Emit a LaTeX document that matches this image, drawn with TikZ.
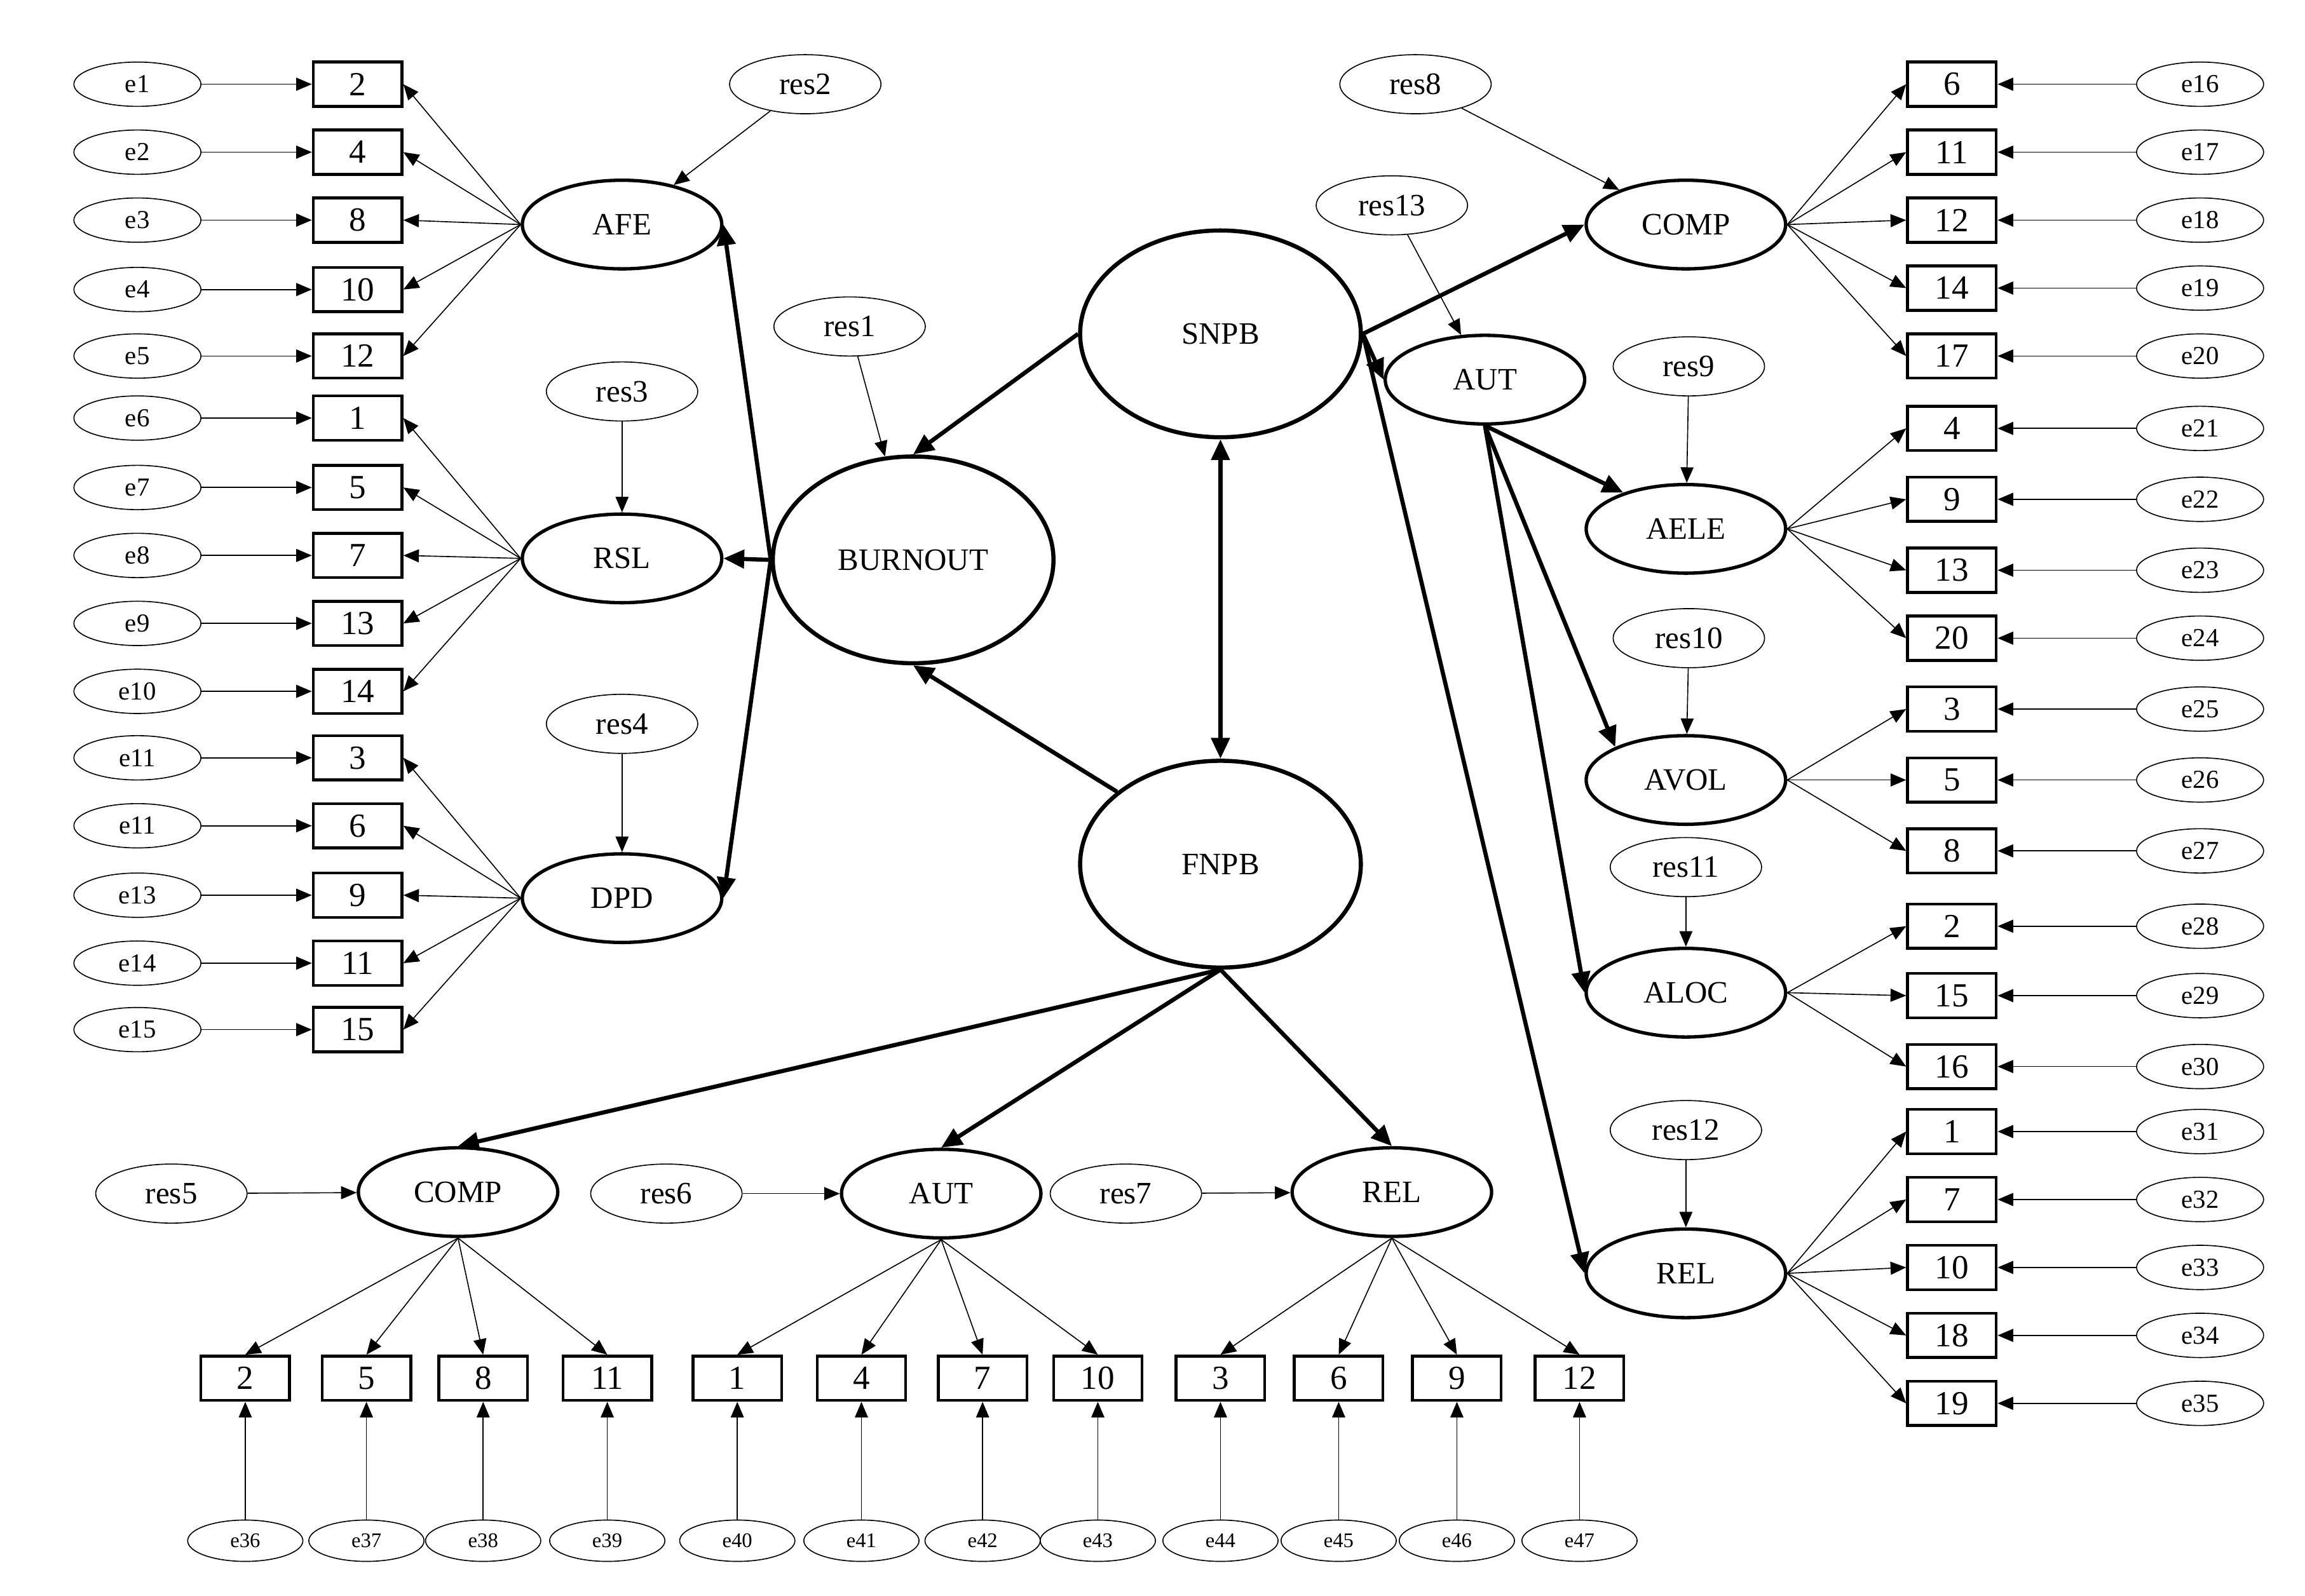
\documentclass[tikz,border=0pt]{standalone}
\usepackage{fontspec}
\setmainfont{Liberation Serif}
\usetikzlibrary{arrows.meta,shapes.geometric}
\tikzset{
  lat/.style={draw, ellipse, line width=1.3pt, minimum width=2.7cm, minimum height=1.2cm, font=\fontsize{12}{14}\selectfont},
  big/.style={draw, ellipse, line width=1.6pt, minimum width=3.8cm, minimum height=2.8cm, font=\fontsize{12}{14}\selectfont},
  item/.style={draw, rectangle, line width=1.1pt, minimum width=1.2cm, minimum height=0.6cm, font=\fontsize{13}{15}\selectfont},
  err/.style={draw, ellipse, thin, minimum width=1.72cm, minimum height=0.6cm, inner sep=0pt, font=\fontsize{10}{12}\selectfont},
  errs/.style={draw, ellipse, thin, minimum width=1.56cm, minimum height=0.56cm, inner sep=0pt, font=\fontsize{8}{10}\selectfont},
  res/.style={draw, ellipse, thin, minimum width=2.05cm, minimum height=0.8cm, inner sep=0pt, font=\fontsize{12}{14}\selectfont},
  thinarr/.style={-{Triangle[length=6pt,width=5pt]}, thin},
  thickarr/.style={-{Triangle[length=8pt,width=7pt]}, line width=1.6pt}
}
\begin{document}
\begin{tikzpicture}[x=0.02cm, y=-0.02cm]
\useasboundingbox (0,0) rectangle (1560,1080);
% latent variables
\node[big] (snpb) at (826,226) {SNPB};
\node[big] (fnpb) at (826,585) {FNPB};
\node[big] (burn) at (618,379) {BURNOUT};
\node[lat] (afe) at (421,152) {AFE};
\node[lat] (rsl) at (421,378) {RSL};
\node[lat] (dpd) at (421,608) {DPD};
\node[lat] (autr) at (1005,257) {AUT};
\node[lat] (compr) at (1141,152) {COMP};
\node[lat] (aele) at (1141,358) {AELE};
\node[lat] (avol) at (1141,528) {AVOL};
\node[lat] (aloc) at (1141,672) {ALOC};
\node[lat] (relr) at (1141,862) {REL};
\node[lat] (compb) at (310,807) {COMP};
\node[lat] (autb) at (637,808) {AUT};
\node[lat] (relb) at (942,807) {REL};
% residuals
\foreach \n/\x/\y/\t in {r1/575/221/res1, r2/545/57/res2, r3/421/265/res3, r4/421/490/res4,
  r5/116/808/res5, r6/451/808/res6, r7/762/808/res7, r8/958/57/res8, r9/1143/248/res9,
  r10/1143/432/res10, r11/1141/587/res11, r12/1141/765/res12, r13/942/139/res13}
  \node[res] (\n) at (\x,\y) {\t};
\foreach \a/\b in {r1/burn, r2/afe, r3/rsl, r4/dpd, r5/compb, r6/autb, r7/relb,
  r8/compr, r9/aele, r10/avol, r11/aloc, r12/relr, r13/autr}
  \draw[thinarr] (\a) -- (\b);
% structural paths
\draw[thickarr] (snpb.west) -- (burn.north);
\draw[thickarr] (fnpb.145) -- (burn.south);
\draw[thickarr, {Triangle[length=8pt,width=7pt]}-{Triangle[length=8pt,width=7pt]}] (snpb) -- (fnpb);
\foreach \b in {afe, rsl, dpd} \draw[thickarr] (burn.west) -- (\b.east);
\draw[thickarr] (snpb.east) -- (compr.west);
\draw[thickarr] (snpb.east) -- (autr.west);
\draw[thickarr] (snpb.east) -- (relr.west);
\draw[thickarr] (autr.south) -- (aele.150);
\draw[thickarr] (autr.south) -- (avol.155);
\draw[thickarr] (autr.south) -- (aloc.west);
\draw[thickarr] (fnpb.south) -- (compb.north);
\draw[thickarr] (fnpb.south) -- (autb.north);
\draw[thickarr] (fnpb.south) -- (relb.north);
% left indicators
\foreach \i/\y/\t/\f in {1/57/2/afe, 2/103/4/afe, 3/149/8/afe, 4/196/10/afe, 5/241/12/afe,
  6/283/1/rsl, 7/330/5/rsl, 8/376/7/rsl, 9/422/13/rsl, 10/468/14/rsl,
  11/513/3/dpd, 12/559/6/dpd, 13/606/9/dpd, 14/652/11/dpd, 15/697/15/dpd} {
  \node[item] (x\i) at (242,\y) {\t};
  \node[err] (e\i) at (93,\y) {};
  \draw[thinarr] (e\i) -- (x\i);
  \draw[thinarr] (\f.west) -- (x\i.east);
}
\foreach \i/\t in {1/e1,2/e2,3/e3,4/e4,5/e5,6/e6,7/e7,8/e8,9/e9,10/e10,11/e11,12/e11,13/e13,14/e14,15/e15}
  \node[font=\fontsize{10}{12}\selectfont] at (e\i) {\t};
% right indicators
\foreach \i/\y/\t/\f in {16/57/6/compr, 17/103/11/compr, 18/149/12/compr, 19/195/14/compr, 20/241/17/compr,
  21/290/4/aele, 22/338/9/aele, 23/386/13/aele, 24/432/20/aele,
  25/480/3/avol, 26/528/5/avol, 27/576/8/avol,
  28/627/2/aloc, 29/674/15/aloc, 30/722/16/aloc,
  31/766/1/relr, 32/812/7/relr, 33/858/10/relr, 34/904/18/relr, 35/950/19/relr} {
  \node[item] (x\i) at (1321,\y) {\t};
  \node[err] (e\i) at (1489,\y) {e\i};
  \draw[thinarr] (e\i) -- (x\i);
  \draw[thinarr] (\f.east) -- (x\i.west);
}
% bottom indicators
\foreach \i/\x/\t/\f in {36/166/2/compb, 37/248/5/compb, 38/327/8/compb, 39/411/11/compb,
  40/499/1/autb, 41/583/4/autb, 42/665/7/autb, 43/743/10/autb,
  44/826/3/relb, 45/906/6/relb, 46/986/9/relb, 47/1069/12/relb} {
  \node[item] (x\i) at (\x,933) {\t};
  \node[errs] (e\i) at (\x,1043) {e\i};
  \draw[thinarr] (e\i) -- (x\i);
  \draw[thinarr] (\f.south) -- (x\i.north);
}
\end{tikzpicture}
\end{document}
